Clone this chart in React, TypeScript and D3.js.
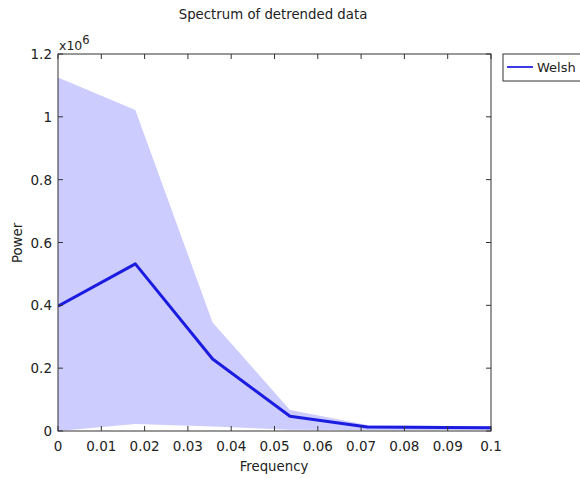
import React from "react";
import * as d3 from "d3";

const freqs = [0, 0.01786, 0.03571, 0.05357, 0.07143, 0.08929, 0.10714];
const power = [0.397, 0.532, 0.229, 0.047, 0.013, 0.011, 0.01];
const upper = [1.125, 1.022, 0.345, 0.067, 0.019, 0.016, 0.015];
const lower = [0.0, 0.022, 0.014, 0.004, 0.003, 0.003, 0.003];
const xTicks = [0, 0.01, 0.02, 0.03, 0.04, 0.05, 0.06, 0.07, 0.08, 0.09, 0.1];
const yTicks = [0, 0.2, 0.4, 0.6, 0.8, 1, 1.2];
const seriesName = "Welsh";

const W = 580, H = 478;
const L = 58, R = 491, T = 54, B = 431;
const FONT = "DejaVu Sans, Verdana, sans-serif";
const AX = "#333";

export default function App() {
  const x = d3.scaleLinear().domain([0, 0.1]).range([L, R]);
  const y = d3.scaleLinear().domain([0, 1.2]).range([B, T]);
  const pts = freqs.map((f, i) => ({ f, p: power[i], u: upper[i], l: lower[i] }));
  const area = d3.area<any>().x((d) => x(d.f)).y0((d) => y(d.l)).y1((d) => y(d.u));
  const line = d3.line<any>().x((d) => x(d.f)).y((d) => y(d.p));
  const tk = 5;
  return (
    <svg width={W} height={H} style={{ position: "absolute", left: 0, top: 0, background: "#fff" }} fontFamily={FONT}>
      <defs>
        <clipPath id="plot">
          <rect x={L} y={T} width={R - L} height={B - T} />
        </clipPath>
      </defs>
      <text x={273} y={19} textAnchor="middle" fontSize={13.3} fill="#222">Spectrum of detrended data</text>
      <g clipPath="url(#plot)">
        <path d={area(pts) || ""} fill="#ccccff" stroke="none" />
        <path d={line(pts) || ""} fill="none" stroke="#1c1ce0" strokeWidth={3} strokeLinejoin="round" />
      </g>
      <rect x={L} y={T} width={R - L} height={B - T} fill="none" stroke={AX} strokeWidth={1} />
      {xTicks.map((t) => (
        <g key={"x" + t}>
          <line x1={x(t)} x2={x(t)} y1={B} y2={B - tk} stroke={AX} />
          <line x1={x(t)} x2={x(t)} y1={T} y2={T + tk} stroke={AX} />
          <text x={x(t)} y={451} textAnchor="middle" fontSize={13.5} fill="#222">{String(t)}</text>
        </g>
      ))}
      {yTicks.map((t) => (
        <g key={"y" + t}>
          <line x1={L} x2={L + tk} y1={y(t)} y2={y(t)} stroke={AX} />
          <line x1={R} x2={R - tk} y1={y(t)} y2={y(t)} stroke={AX} />
          <text x={52} y={y(t) + 5} textAnchor="end" fontSize={13.5} fill="#222">{String(t)}</text>
        </g>
      ))}
      <text x={59} y={50} fontSize={12.5} fill="#222">x10<tspan dy={-6} fontSize={11.5}>6</tspan></text>
      <text x={274} y={471} textAnchor="middle" fontSize={13.3} fill="#222">Frequency</text>
      <text transform={`translate(22,243) rotate(-90)`} textAnchor="middle" fontSize={13.3} fill="#222">Power</text>
      <rect x={503} y={54} width={90} height={27} fill="#fff" stroke={AX} />
      <line x1={507} x2={533} y1={67} y2={67} stroke="#3a3ae6" strokeWidth={2} />
      <text x={537} y={72} fontSize={13} fill="#222">{seriesName}</text>
    </svg>
  );
}
